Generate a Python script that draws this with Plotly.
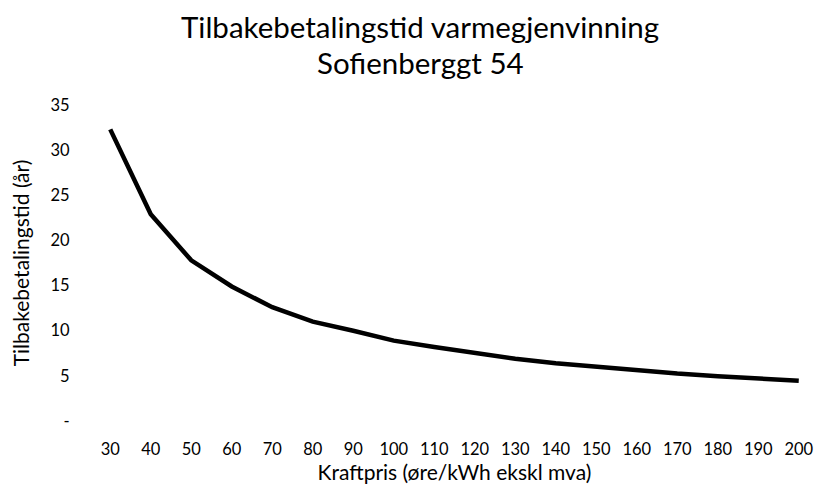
import plotly.graph_objects as go

prices = [30, 40, 50, 60, 70, 80, 90, 100, 110, 120, 130, 140, 150, 160, 170, 180, 190, 200]
payback_years = [32.3, 22.9, 17.8, 14.9, 12.6, 11.0, 10.0, 8.9, 8.2, 7.5, 6.9, 6.4, 6.0, 5.65, 5.25, 4.97, 4.74, 4.45]
y_tick_vals = [0, 5, 10, 15, 20, 25, 30, 35]
y_tick_text = ["-", "5", "10", "15", "20", "25", "30", "35"]
title_lines = ["Tilbakebetalingstid varmegjenvinning", "Sofienberggt 54"]

FONT = "Lato, 'Open Sans', sans-serif"

fig = go.Figure()
fig.add_trace(go.Scatter(
    x=[str(p) for p in prices],
    y=payback_years,
    mode="lines",
    line=dict(color="#000000", width=4.5),
    showlegend=False,
))

fig.update_layout(
    width=816, height=476,
    paper_bgcolor="white", plot_bgcolor="white",
    margin=dict(l=82, r=5, t=97, b=63),
    font=dict(family=FONT, color="#000000"),
)

for line, ypos in zip(title_lines, [1.248, 1.135]):
    fig.add_annotation(
        text=line, xref="paper", yref="paper", x=0.453, y=ypos,
        xanchor="center", yanchor="middle", showarrow=False,
        font=dict(family=FONT, size=29.5, color="#000000"),
    )

fig.update_xaxes(
    type="category", range=[-0.5, len(prices) - 0.5],
    showgrid=False, showline=False, zeroline=False,
    ticks="outside", ticklen=13, tickcolor="rgba(0,0,0,0)",
    tickfont=dict(size=16.5, color="#000000"),
    title=dict(text="Kraftpris (øre/kWh ekskl mva)", font=dict(size=21, color="#000000"), standoff=6),
)
fig.update_yaxes(
    range=[0, 35],
    tickvals=y_tick_vals, ticktext=y_tick_text,
    showgrid=False, showline=False, zeroline=False,
    ticks="outside", ticklen=16, tickcolor="rgba(0,0,0,0)",
    tickfont=dict(size=16.5, color="#000000"),
    title=dict(text="Tilbakebetalingstid (år)", font=dict(size=21, color="#000000"), standoff=16),
)

fig.write_html("out.html")
